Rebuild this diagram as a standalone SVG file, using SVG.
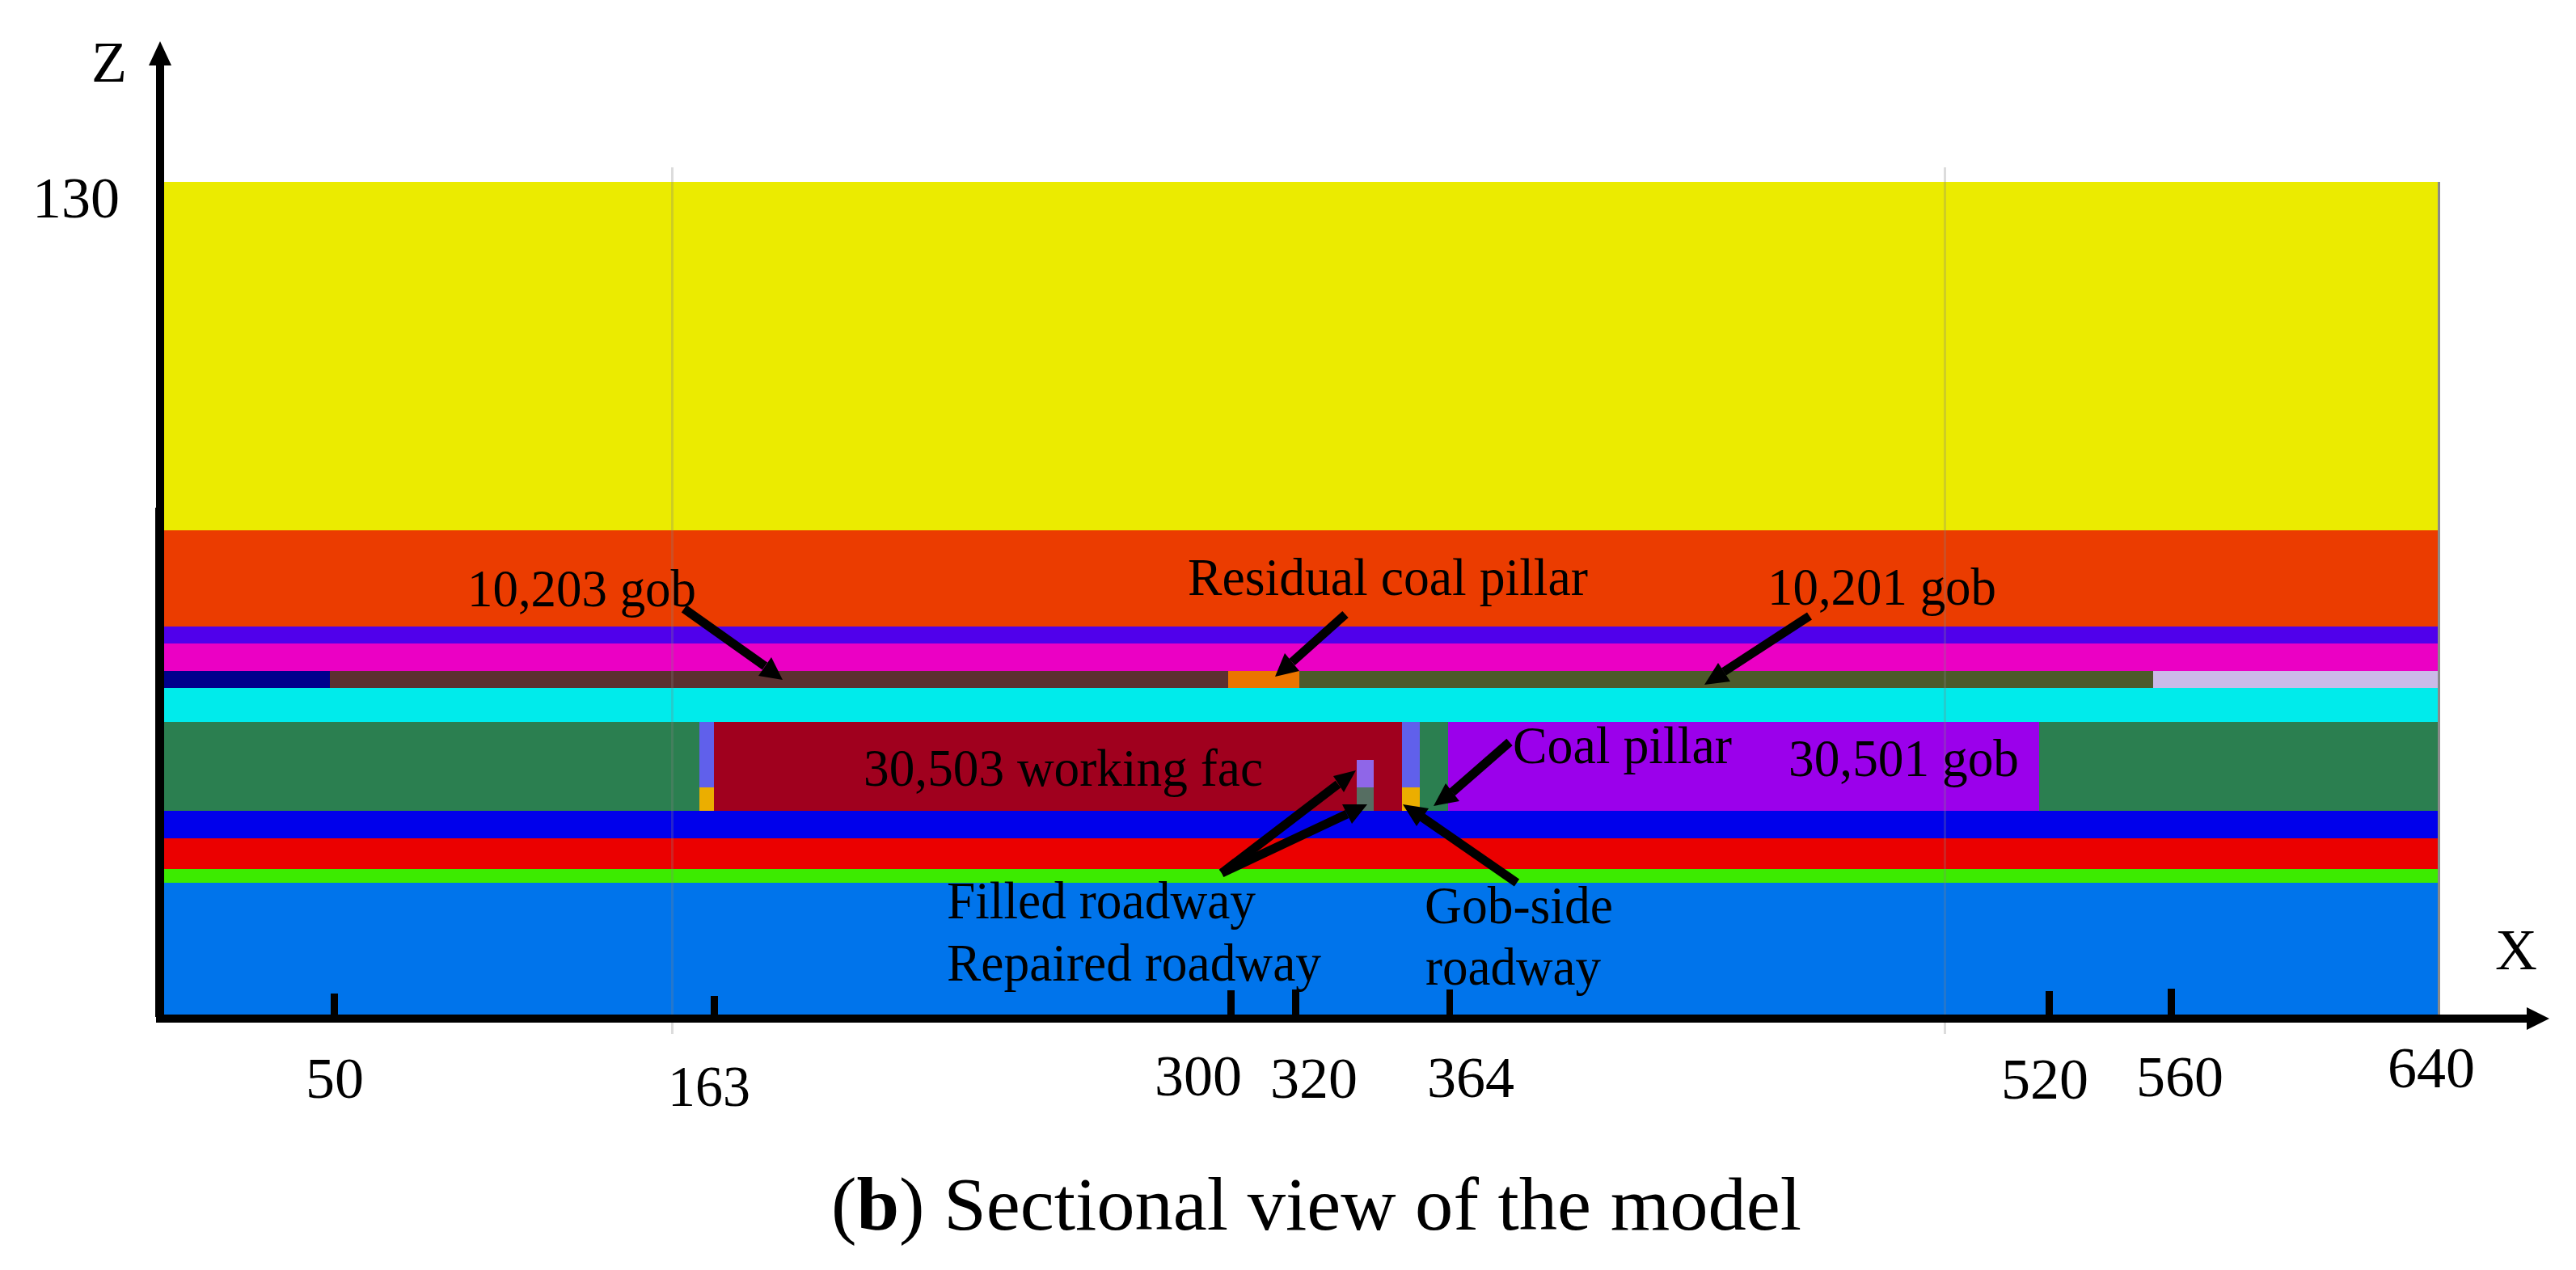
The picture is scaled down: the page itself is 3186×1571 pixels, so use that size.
<svg xmlns="http://www.w3.org/2000/svg" width="3186" height="1571" viewBox="0 0 3186 1571">
<style>
text{font-family:"Liberation Serif","Times New Roman",serif;fill:#000}
.l{font-size:66px}
.n{font-size:72px}
.c{font-size:93px}
.s{stroke:#000;stroke-width:11;fill:none}
.h{fill:#000}
.g{fill:#808080;fill-opacity:.28}
</style>
<rect width="3186" height="1571" fill="#fff"/>
<g id="model">
<rect x="203" y="225" width="2812" height="431" fill="#EBEB00"/>
<rect x="203" y="656" width="2812" height="119" fill="#EB3C00"/>
<rect x="203" y="775" width="2812" height="21" fill="#5000EB"/>
<rect x="203" y="796" width="2812" height="34" fill="#EB00C4"/>
<rect x="203" y="830" width="205" height="21" fill="#00008C"/>
<rect x="408" y="830" width="1111" height="21" fill="#5C3030"/>
<rect x="1519" y="830" width="88" height="21" fill="#EB7500"/>
<rect x="1607" y="830" width="1056" height="21" fill="#4D5A2B"/>
<rect x="2663" y="830" width="352" height="21" fill="#CBBAE8"/>
<rect x="203" y="851" width="2812" height="42" fill="#00EBEB"/>
<rect x="203" y="893" width="2812" height="110" fill="#2B7F50"/>
<rect x="865" y="893" width="18" height="81" fill="#6060EB"/>
<rect x="865" y="974" width="18" height="29" fill="#EBAE00"/>
<rect x="883" y="893" width="851" height="110" fill="#A0001E"/>
<rect x="1678" y="940" width="21" height="34" fill="#8F66E8"/>
<rect x="1678" y="974" width="21" height="29" fill="#566E62"/>
<rect x="1734" y="893" width="22" height="81" fill="#6060EB"/>
<rect x="1734" y="974" width="22" height="29" fill="#EBAE00"/>
<rect x="1791" y="893" width="731" height="110" fill="#9B00EB"/>
<rect x="203" y="1003" width="2812" height="34" fill="#0000EB"/>
<rect x="203" y="1037" width="2812" height="38" fill="#EB0000"/>
<rect x="203" y="1075" width="2812" height="17" fill="#3CEB00"/>
<rect x="203" y="1092" width="2812" height="163" fill="#0074EB"/>
<rect class="g" x="830" y="207" width="3" height="1072"/>
<rect class="g" x="2404" y="207" width="3" height="1072"/>
<rect x="3015" y="225" width="3" height="1030" fill="#8A8A8A"/>
</g>
<g id="axes">
<rect x="193" y="81" width="10" height="1184"/>
<rect x="192" y="628" width="2" height="630"/>
<polygon class="h" points="198,51 212,81 184,81"/>
<rect x="193" y="1255" width="2932" height="10"/>
<polygon class="h" points="3153,1260 3125,1246 3125,1274"/>
<rect x="409" y="1229" width="9" height="26"/>
<rect x="879" y="1232" width="9" height="23"/>
<rect x="1518" y="1225" width="9" height="30"/>
<rect x="1598" y="1224" width="9" height="31"/>
<rect x="1789" y="1224" width="8" height="31"/>
<rect x="2530" y="1226" width="9" height="29"/>
<rect x="2681" y="1223" width="9" height="32"/>
</g>
<g id="connectors">
<line class="s" x1="846" y1="753" x2="946" y2="824"/>
<polygon class="h" points="968,841 954,813 938,836"/>
<line class="s" x1="1664" y1="760" x2="1598" y2="819"/>
<polygon class="h" points="1577,837 1589,808 1607,830"/>
<line class="s" x1="2238" y1="762" x2="2132" y2="831"/>
<polygon class="h" points="2108,847 2125,820 2140,843"/>
<line class="s" x1="1867" y1="918" x2="1796" y2="980"/>
<polygon class="h" points="1773,997 1788,969 1805,991"/>
<line class="s" x1="1511" y1="1080" x2="1655" y2="970"/>
<polygon class="h" points="1677,953 1649,960 1662,980"/>
<line class="s" x1="1511" y1="1080" x2="1666" y2="1007"/>
<polygon class="h" points="1691,995 1660,995 1672,1019"/>
<line class="s" x1="1876" y1="1092" x2="1759" y2="1011"/>
<polygon class="h" points="1735,995 1767,1000 1752,1022"/>
</g>
<g id="labels">
<text class="n" x="113" y="101">Z</text>
<text class="n" x="40" y="269">130</text>
<text class="n" x="3086" y="1199">X</text>
<text class="n" x="378" y="1358">50</text>
<text class="n" x="826" y="1368" textLength="102" lengthAdjust="spacingAndGlyphs">163</text>
<text class="n" x="1428" y="1355">300</text>
<text class="n" x="1571" y="1358">320</text>
<text class="n" x="1765" y="1357">364</text>
<text class="n" x="2475" y="1359">520</text>
<text class="n" x="2642" y="1356">560</text>
<text class="n" x="2953" y="1345">640</text>
<text class="l" x="578" y="750" textLength="283" lengthAdjust="spacingAndGlyphs">10,203 gob</text>
<text class="l" x="1469" y="736" textLength="495" lengthAdjust="spacingAndGlyphs">Residual coal pillar</text>
<text class="l" x="2186" y="748" textLength="283" lengthAdjust="spacingAndGlyphs">10,201 gob</text>
<text class="l" x="1871" y="944" textLength="271" lengthAdjust="spacingAndGlyphs">Coal pillar</text>
<text class="l" x="2212" y="960" textLength="285" lengthAdjust="spacingAndGlyphs">30,501 gob</text>
<text class="l" x="1068" y="972" textLength="494" lengthAdjust="spacingAndGlyphs">30,503 working fac</text>
<text class="l" x="1171" y="1136" textLength="382" lengthAdjust="spacingAndGlyphs">Filled roadway</text>
<text class="l" x="1171" y="1213" textLength="463" lengthAdjust="spacingAndGlyphs">Repaired roadway</text>
<text class="l" x="1762" y="1142" textLength="233" lengthAdjust="spacingAndGlyphs">Gob-side</text>
<text class="l" x="1763" y="1218" textLength="217" lengthAdjust="spacingAndGlyphs">roadway</text>
<text class="c" x="1028" y="1521" textLength="1200" lengthAdjust="spacingAndGlyphs">(<tspan font-weight="700">b</tspan>) Sectional view of the model</text>
</g>
</svg>
